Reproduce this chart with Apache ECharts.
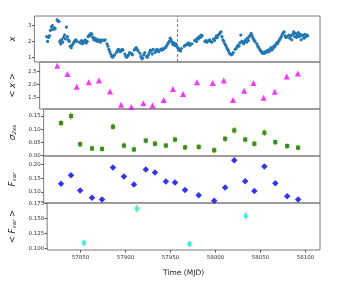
<!DOCTYPE html>
<html><head><meta charset="utf-8">
<script src="https://cdn.jsdelivr.net/npm/echarts@6/dist/echarts.min.js"></script>
<style>html,body{margin:0;padding:0;background:#fff}#c{width:358px;height:284px}</style>
</head><body><div id="c"></div>
<script>
// ---- light curve (top panel) ----
const lcTime = [57826,57827,57828,57829,57830,57831,57832,57833,57834,57835,57837,57838,57839,57840,57841,57842,57843,57844,57845,57846,57847,57848,57849,57850,57851,57852,57853,57854,57855,57856,57857,57858,57861,57862,57863,57864,57865,57866,57867,57868,57869,57870,57871,57872,57873,57874,57875,57876,57877,57878,57879,57880,57882,57883,57884,57885,57887,57888,57890,57891,57892,57893,57894,57895,57896,57897,57898,57900,57901,57902,57903,57904,57905,57906,57907,57909,57910,57911,57912,57913,57914,57916,57917,57919,57920,57921,57922,57923,57925,57926,57927,57928,57929,57930,57932,57933,57934,57935,57936,57937,57938,57939,57941,57942,57943,57944,57945,57947,57948,57949,57950,57952,57953,57954,57955,57956,57957,57958,57959,57960,57961,57962,57963,57964,57965,57966,57967,57968,57969,57972,57973,57975,57976,57977,57978,57980,57983,57984,57985,57986,57987,57988,57989,57990,57991,57994,57995,57996,57998,57999,58000,58001,58003,58004,58005,58006,58007,58008,58009,58010,58011,58012,58013,58014,58015,58016,58017,58018,58019,58020,58021,58022,58023,58024,58026,58027,58028,58029,58030,58031,58032,58033,58034,58035,58036,58037,58038,58039,58040,58041,58042,58043,58044,58045,58046,58047,58049,58050,58051,58052,58053,58054,58055,58056,58057,58058,58059,58060,58061,58062,58063,58064,58065,58066,58067,58068,58069,58070,58071,58072,58073,58074,58075,58076,58077,58078,58079,58080,58081,58083,58084,58085,58086,58087,58088,58089,58090,58091,58092,58093,58094,58095,58096,58097,58098,58099,58100,58101,58102,58103];
const lcFlux = [2.30,2.00,2.25,2.35,2.70,2.90,3.00,2.75,2.85,2.80,3.35,3.30,3.25,2.00,1.85,2.10,1.95,2.25,2.40,2.15,2.90,2.30,2.10,2.00,1.70,1.60,1.75,1.85,1.95,2.05,2.10,2.00,1.95,1.90,2.05,1.85,2.00,1.95,2.10,1.90,2.00,2.30,2.40,2.35,2.50,2.45,2.25,2.10,2.20,2.05,2.15,2.00,2.10,1.95,2.05,2.10,2.05,2.10,1.85,1.70,1.50,1.35,1.20,1.05,1.00,1.10,1.15,1.30,1.40,1.50,1.45,1.35,1.40,1.50,1.45,1.20,1.05,1.00,1.10,1.15,1.30,1.25,1.15,1.45,1.55,1.60,1.50,1.40,1.25,1.05,0.90,0.95,1.15,1.30,1.05,1.00,1.15,1.30,1.45,1.40,1.20,1.50,1.30,1.40,1.50,1.45,1.35,1.50,1.45,1.55,1.50,1.60,1.70,1.80,1.90,2.00,2.20,2.10,1.95,1.80,1.90,1.75,1.85,1.70,1.60,1.55,1.45,1.40,1.55,1.70,1.75,1.85,1.80,1.90,1.75,1.85,2.05,2.10,2.00,2.20,2.15,2.30,2.25,2.40,2.35,2.00,2.05,1.95,2.05,2.10,2.00,1.95,2.15,2.05,2.20,2.35,2.25,2.40,2.45,2.55,2.60,2.30,2.10,2.00,1.85,1.75,1.60,1.50,1.40,1.25,1.20,1.15,1.20,1.30,1.50,1.55,1.65,1.75,1.70,1.90,2.40,2.00,1.95,1.85,2.00,2.10,1.95,2.20,2.05,2.30,2.40,2.50,2.35,2.20,2.10,2.00,1.85,1.70,1.60,1.50,1.40,1.35,1.25,1.30,1.25,1.35,1.30,1.40,1.45,1.35,1.50,1.60,1.45,1.55,1.70,1.65,1.80,1.90,1.85,2.00,2.10,2.20,2.30,2.45,2.55,2.60,2.35,2.25,2.30,2.40,2.20,2.35,2.10,2.45,2.60,2.30,2.50,2.25,2.40,2.55,2.30,2.45,2.10,2.35,2.40,2.20,2.45,2.30,2.40,2.35];
const lcErr = [0.08,0.08,0.06,0.06,0.08,0.10,0.08,0.06,0.08,0.08,0.10,0.08,0.08,0.20,0.15,0.10,0.06,0.08,0.10,0.06,0.10,0.08,0.06,0.06,0.08,0.06,0.06,0.05,0.06,0.05,0.06,0.05,0.05,0.06,0.05,0.05,0.05,0.06,0.05,0.05,0.05,0.06,0.06,0.05,0.06,0.05,0.05,0.05,0.05,0.05,0.05,0.05,0.05,0.05,0.05,0.05,0.05,0.05,0.06,0.05,0.05,0.05,0.05,0.05,0.05,0.05,0.05,0.05,0.05,0.05,0.05,0.05,0.05,0.05,0.05,0.05,0.05,0.05,0.05,0.05,0.05,0.05,0.05,0.05,0.05,0.05,0.05,0.05,0.05,0.05,0.05,0.05,0.05,0.05,0.05,0.05,0.05,0.05,0.05,0.05,0.05,0.05,0.05,0.05,0.05,0.05,0.05,0.05,0.05,0.05,0.05,0.05,0.05,0.05,0.05,0.05,0.06,0.05,0.05,0.05,0.05,0.05,0.05,0.05,0.06,0.05,0.05,0.05,0.05,0.06,0.05,0.05,0.05,0.05,0.05,0.05,0.05,0.05,0.05,0.05,0.05,0.05,0.05,0.05,0.05,0.05,0.05,0.05,0.05,0.05,0.05,0.05,0.05,0.05,0.05,0.05,0.05,0.05,0.05,0.05,0.06,0.05,0.05,0.05,0.05,0.05,0.05,0.05,0.05,0.05,0.05,0.05,0.05,0.05,0.05,0.05,0.05,0.05,0.05,0.05,0.05,0.10,0.05,0.05,0.05,0.05,0.05,0.05,0.05,0.06,0.05,0.06,0.06,0.05,0.05,0.05,0.05,0.05,0.05,0.05,0.05,0.05,0.05,0.05,0.05,0.05,0.05,0.05,0.05,0.05,0.05,0.05,0.05,0.05,0.05,0.05,0.05,0.05,0.05,0.05,0.05,0.05,0.05,0.05,0.05,0.06,0.05,0.06,0.05,0.05,0.05,0.08,0.05,0.10,0.06,0.05,0.05,0.06,0.08,0.05,0.06,0.05,0.05,0.05,0.06,0.05,0.08,0.05,0.05,0.06,0.05,0.06,0.05];
const flareMJD = 57965;

// ---- binned quantities ----
const binTime = [57832,57843,57853,57866,57877,57889,57901,57912,57925,57935,57947,57957,57968,57983,58000,58012,58022,58034,58044,58055,58067,58080,58092];
const meanX = [2.71,2.40,1.91,2.08,2.15,1.73,1.23,1.15,1.29,1.20,1.41,1.83,1.64,2.08,2.05,2.15,1.41,1.76,2.05,1.50,1.72,2.30,2.41];
const sigmaXs = [0.123,0.150,0.042,0.026,0.024,0.109,0.037,0.022,0.056,0.044,0.037,0.060,0.030,0.032,0.019,0.063,0.095,0.060,0.044,0.086,0.050,0.035,0.029];
const sigmaErr = [0.013,0.014,0.012,0.011,0.011,0.013,0.012,0.012,0.012,0.012,0.011,0.012,0.012,0.012,0.012,0.012,0.013,0.012,0.012,0.013,0.012,0.011,0.011];
const fvar = [0.130,0.162,0.106,0.079,0.073,0.190,0.157,0.128,0.183,0.172,0.139,0.135,0.108,0.088,0.068,0.117,0.216,0.140,0.104,0.194,0.132,0.085,0.073];
const meanFvarTime = [57854,57912.5,57971,58033.5];
const meanFvar = [0.109,0.166,0.107,0.154];
const meanFvarErr = [0.005,0.006,0.005,0.006];

const xTicks = [57850,57900,57950,58000,58050,58100];
const yTicks = [[1,2,3],[1.5,2.0,2.5],[0.00,0.05,0.10,0.15],[0.10,0.15,0.20],[0.100,0.125,0.150,0.175]];
const yFmt = [v=>String(v), v=>v.toFixed(1), v=>v.toFixed(2), v=>v.toFixed(2), v=>v.toFixed(3)];

const FONT = 'DejaVu Sans';
const tops = [16,62,109,156,203];
const heights = [46,47,47,47,47];
const yRanges = [[0.7,3.6],[1.07,2.85],[-0.003,0.177],[0.060,0.232],[0.097,0.1755]];
const yNames = [
  '{i|x}',
  '{n|< }{i|x}{n| >}',
  '{g|σ}{s|2}{s|xs}',
  '{i|F}{s|var}',
  '{n|< }{i|F}{s|var}{n| >}'
];
const rich = {
  i:{fontFamily:FONT,fontStyle:'italic',fontSize:8.5,color:'#222'},
  n:{fontFamily:FONT,fontSize:8.5,color:'#222'},
  g:{fontFamily:FONT,fontStyle:'italic',fontSize:9,color:'#222'},
  s:{fontFamily:FONT,fontStyle:'italic',fontSize:5.5,color:'#222',padding:[4,0,0,0]}
};

const grids = tops.map((t,k)=>({left:25,right:38,top:t,height:heights[k],show:true,borderColor:'#7a7a7a',borderWidth:1,backgroundColor:'transparent'}));
const xAxes = tops.map((t,k)=>({
  type:'value',gridIndex:k,min:57813,max:58116,
  axisLine:{show:false},splitLine:{show:false},
  axisTick:{show:k===4,length:2.5,lineStyle:{color:'#555'},customValues:xTicks},
  axisLabel:{show:k===4,fontFamily:FONT,fontSize:5.5,color:'#333',margin:5,customValues:xTicks,formatter:v=>String(Math.round(v))},
  name:k===4?'Time (MJD)':'',nameLocation:'middle',nameGap:19,
  nameTextStyle:{fontFamily:FONT,fontSize:7.5,color:'#222'}
}));
const yAxes = tops.map((t,k)=>({
  type:'value',gridIndex:k,min:yRanges[k][0],max:yRanges[k][1],
  axisLine:{show:false},splitLine:{show:false},
  axisTick:{show:true,length:2.5,lineStyle:{color:'#555'},customValues:yTicks[k]},
  axisLabel:{fontFamily:FONT,fontSize:5.5,color:'#333',margin:3,customValues:yTicks[k],formatter:yFmt[k]},
  name:yNames[k],nameLocation:'middle',nameRotate:90,nameGap:k===0?11:14,
  nameTextStyle:{rich:rich}
}));

function errSeries(k,t,v,e,color,w){
  const data=[];
  for(let i=0;i<t.length;i++){ if(e[i]!==undefined) data.push([t[i],v[i]-e[i],v[i]+e[i]]); }
  return {type:'custom',xAxisIndex:k,yAxisIndex:k,data:data,silent:true,z:1,
    renderItem:(p,api)=>{
      const a=api.coord([api.value(0),api.value(1)]);
      const b=api.coord([api.value(0),api.value(2)]);
      return {type:'line',shape:{x1:a[0],y1:a[1],x2:b[0],y2:b[1]},style:{stroke:color,lineWidth:w}};
    }};
}
const pairs=(t,v)=>t.map((x,i)=>[x,v[i]]);

const series = [
  errSeries(0,lcTime,lcFlux,lcErr,'#e03030',0.7),
  {type:'scatter',xAxisIndex:0,yAxisIndex:0,data:pairs(lcTime,lcFlux),symbol:'circle',symbolSize:3.2,
   itemStyle:{color:'#1f77b4',opacity:1},z:2,silent:true,
   markLine:{silent:true,symbol:['none','none'],label:{show:false},
     lineStyle:{color:'#d03030',type:[3,2],width:0.8},data:[{xAxis:flareMJD}]}},
  {type:'scatter',xAxisIndex:1,yAxisIndex:1,data:pairs(binTime,meanX),symbol:'triangle',symbolSize:6,
   itemStyle:{color:'#ff00ff'},silent:true},
  errSeries(2,binTime,sigmaXs,sigmaErr,'#ffa500',1.2),
  {type:'scatter',xAxisIndex:2,yAxisIndex:2,data:pairs(binTime,sigmaXs),symbol:'rect',symbolSize:4.2,
   itemStyle:{color:'#008000'},z:3,silent:true},
  {type:'scatter',xAxisIndex:3,yAxisIndex:3,data:pairs(binTime,fvar),symbol:'diamond',symbolSize:6.5,
   itemStyle:{color:'#0000ff'},silent:true},
  errSeries(4,meanFvarTime,meanFvar,meanFvarErr,'#ffa500',1.2),
  {type:'scatter',xAxisIndex:4,yAxisIndex:4,data:pairs(meanFvarTime,meanFvar),symbol:'rect',symbolSize:4.2,
   itemStyle:{color:'#00ffff'},z:3,silent:true}
];

const chart = echarts.init(document.getElementById('c'),null,{renderer:'canvas'});
chart.setOption({animation:false,backgroundColor:'#fff',grid:grids,xAxis:xAxes,yAxis:yAxes,series:series});
</script></body></html>
